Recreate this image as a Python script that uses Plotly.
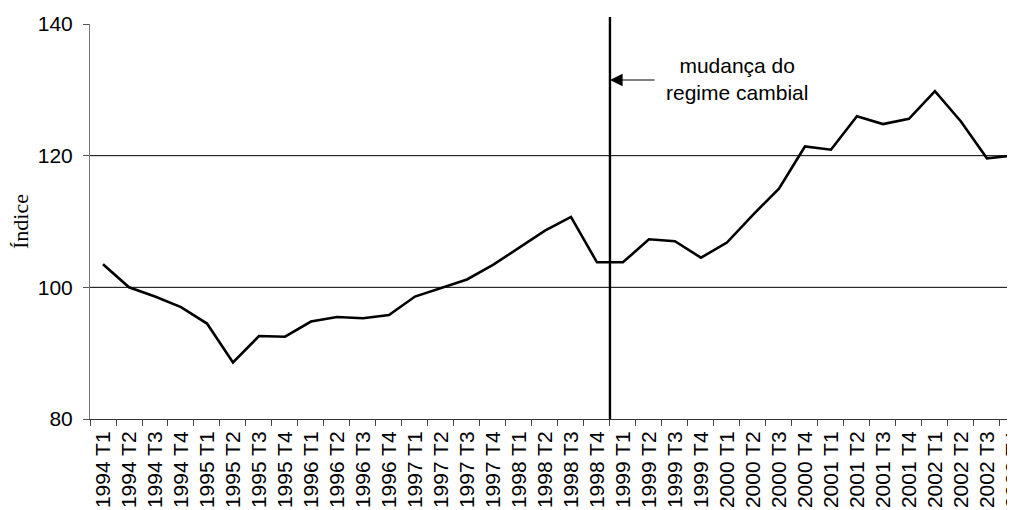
import plotly.graph_objects as go

categories = [f"{y} T{q}" for y in range(1994, 2003) for q in range(1, 5)]
values = [103.5, 100.0, 98.6, 97.0, 94.5, 88.6, 92.6, 92.5, 94.8, 95.5,
          95.3, 95.8, 98.6, 99.9, 101.2, 103.4, 106.0, 108.6, 110.7, 103.8,
          103.8, 107.3, 107.0, 104.5, 106.8, 111.0, 115.0, 121.4, 120.9, 126.0,
          124.8, 125.6, 129.8, 125.2, 119.6, 120.0]
y_ticks = [80, 100, 120, 140]
grid_values = [100, 120]
annotation_text = "mudança do<br>regime cambial"
y_title = "Índice"

FONT = "Liberation Sans, Arial, sans-serif"

fig = go.Figure()
fig.add_trace(go.Scatter(x=categories, y=values, mode="lines",
                         line=dict(color="black", width=2.6), showlegend=False,
                         hoverinfo="skip"))

for g in grid_values:
    fig.add_shape(type="line", xref="paper", yref="y", x0=0, x1=1, y0=g, y1=g,
                  line=dict(color="black", width=1), layer="below")

# regime change vertical line between 1998 T4 and 1999 T1
fig.add_shape(type="line", xref="x", yref="paper", x0=19.5, x1=19.5, y0=0, y1=1.018,
              line=dict(color="black", width=2.4))

fig.add_annotation(x=19.5, y=131.5, xref="x", yref="y", ax=46, ay=0, text="",
                   showarrow=True, arrowhead=2, arrowsize=2.3, arrowwidth=1.1,
                   arrowcolor="black")
fig.add_annotation(x=24.4, y=131.6, xref="x", yref="y", text=annotation_text,
                   showarrow=False, font=dict(family=FONT, size=21, color="black"),
                   align="center")

fig.update_layout(
    width=1007, height=502,
    margin=dict(l=82, r=0, t=16, b=91),
    paper_bgcolor="white", plot_bgcolor="white",
    font=dict(family=FONT, size=20, color="black"),
    xaxis=dict(type="category", range=[-0.5, 35.08], tickson="boundaries",
               ticks="outside", ticklen=6, tickcolor="#444", tickwidth=1,
               showline=True, linecolor="#333", linewidth=1, showgrid=False,
               tickangle=-90, tickfont=dict(family=FONT, size=21, color="black"),
               ticklabelstandoff=3,
               zeroline=False, automargin=False),
    yaxis=dict(range=[80, 140], tickvals=y_ticks, ticks="outside", ticklen=6,
               tickcolor="#555", showline=True, linecolor="#777", linewidth=1,
               showgrid=False, zeroline=False, automargin=False,
               ticklabelstandoff=6,
               tickfont=dict(family=FONT, size=21, color="black"),
               title=dict(text=y_title, font=dict(family="Liberation Serif, Times New Roman, serif",
                                                   size=22, color="black"), standoff=6)),
)

fig.write_html("out.html")
